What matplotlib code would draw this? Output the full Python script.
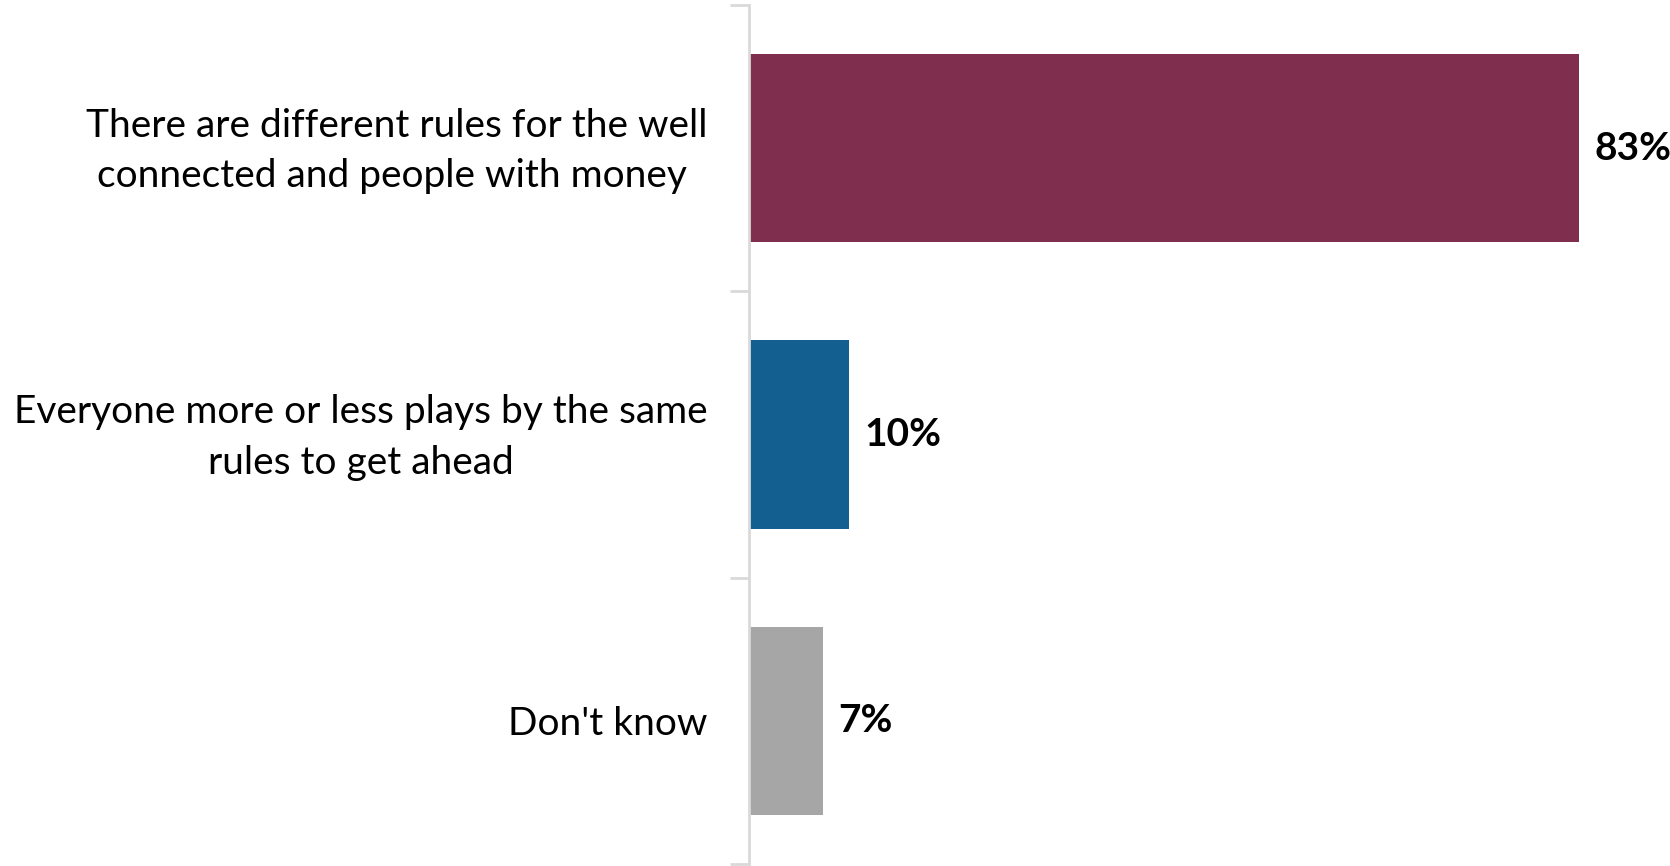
import numpy as np
import matplotlib.pyplot as plt

categories = ["There are different rules for the well\nconnected and people with money ",
              "Everyone more or less plays by the same\nrules to get ahead",
              "Don't know"]
values = [83, 10, 7.4]
labels = ["83%", "10%", "7%"]
colors = ["#7F2F4D", "#135F8F", "#A6A6A6"]

plt.rcParams['font.family'] = ['Lato', 'DejaVu Sans']

fig = plt.figure(figsize=(16.7, 8.66), dpi=100)
ax = fig.add_axes([749 / 1670, 2 / 866, 1 - 749 / 1670, 859 / 866])

y = np.arange(len(categories))
ax.barh(y, values, height=0.657, color=colors)
ax.set_ylim(len(categories) - 0.5, -0.5)
ax.set_xlim(0, 92.1)

for yi, v, lab in zip(y, values, labels):
    ax.text(v + 1.5, yi, lab, va='center', ha='left', fontsize=28, fontweight='bold')

# category labels left of the axis
for yi, cat in zip(y, categories):
    ax.annotate(cat, xy=(0, yi), xycoords=('axes fraction', 'data'),
                xytext=(-30, -2), textcoords='offset points',
                ha='right', va='center', multialignment='center',
                fontsize=28, linespacing=1.5)

# ticks on category boundaries
ax.set_yticks([])
ax.set_yticks([-0.5, 0.5, 1.5, 2.5], minor=True)
ax.tick_params(axis='y', which='minor', length=14, color='#D9D9D9', width=2,
               labelleft=False)
ax.set_xticks([])

for s in ['top', 'right', 'bottom']:
    ax.spines[s].set_visible(False)
ax.spines['left'].set_color('#D9D9D9')
ax.spines['left'].set_linewidth(2)

fig.savefig("out.png", dpi=100)
